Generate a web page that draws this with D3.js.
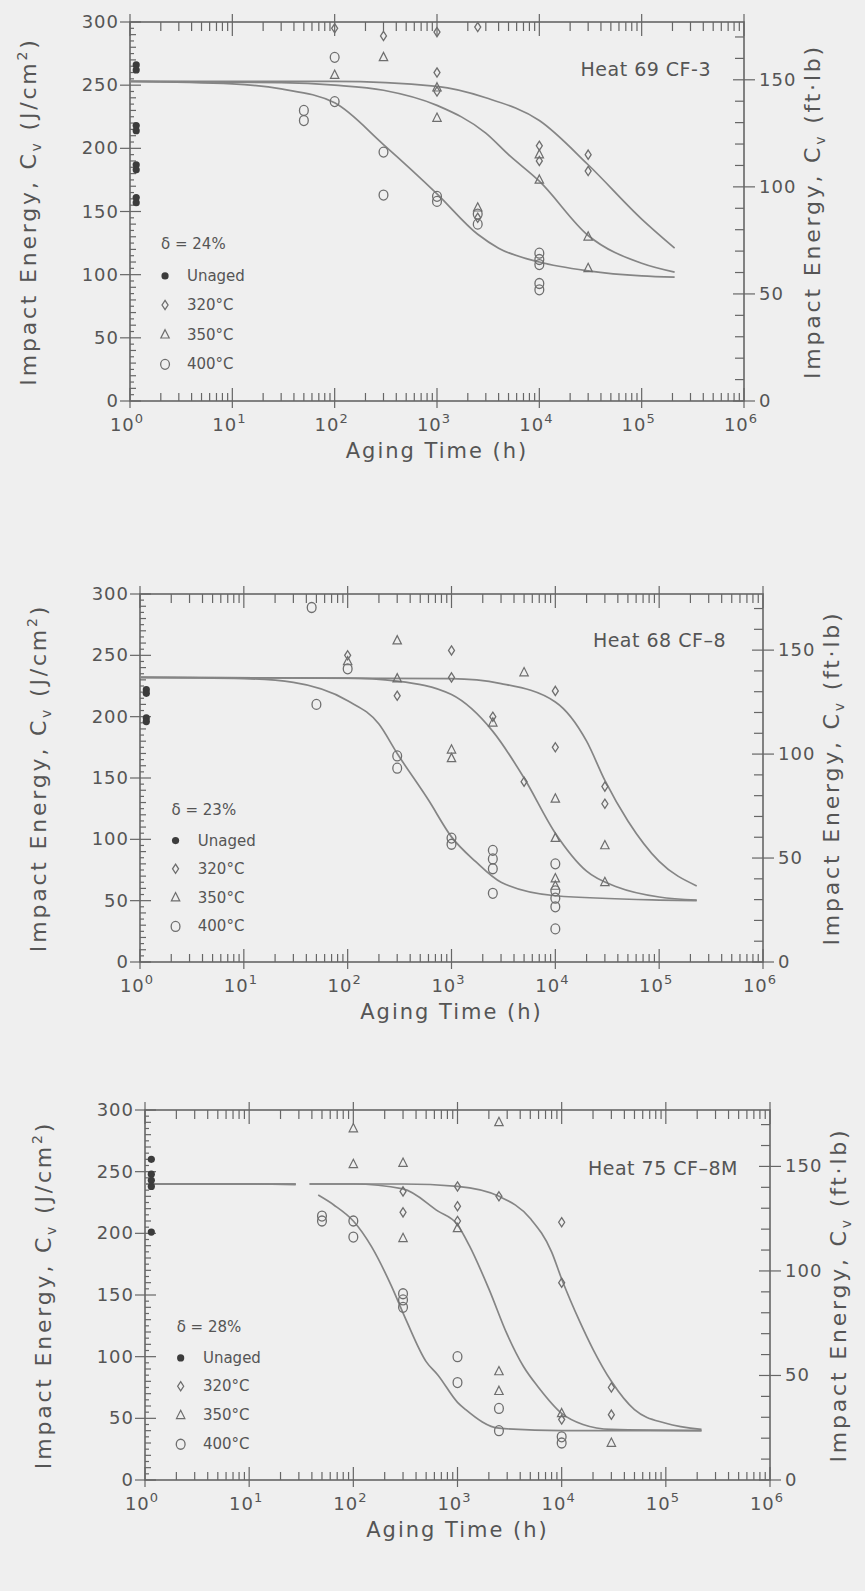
<!DOCTYPE html>
<html>
<head>
<meta charset="utf-8">
<script src="https://cdn.jsdelivr.net/npm/d3@7"></script>
<style>
body { margin: 0; background: #efefef; }
svg { display: block; }
text { font-family: "DejaVu Sans", sans-serif; fill: #555; }
</style>
</head>
<body>
<div id="container"></div>
<script>
var width = 865;
var height = 1591;

var xTickExp = [0, 1, 2, 3, 4, 5, 6];
var yTicks = [0, 50, 100, 150, 200, 250, 300];
var ftlbTicks = [0, 50, 100, 150];
var jPerFtlb = 1.695;   // 1 ft.lb on the 0.8 cm2 charpy section
var unagedTime = 1.15;

var titles = ["Heat 69 CF-3", "Heat 68 CF\u20138", "Heat 75 CF\u20138M"];
var deltas = ["\u03b4 = 24%", "\u03b4 = 23%", "\u03b4 = 28%"];
var legendLabels = ["Unaged", "320\u00b0C", "350\u00b0C", "400\u00b0C"];

// Heat 69 CF-3
var unaged69 = [266, 262, 218, 214, 187, 183, 161, 157];
var p69_320 = [[100, 295], [300, 289], [1000, 292], [2500, 296], [1000, 260], [1000, 245], [10000, 202], [10000, 190], [30000, 195], [30000, 182], [2500, 145]];
var p69_350 = [[300, 272], [100, 258], [1000, 248], [1000, 224], [2500, 153], [10000, 195], [10000, 175], [30000, 130], [30000, 105]];
var p69_400 = [[100, 272], [100, 237], [50, 230], [50, 222], [300, 197], [300, 163], [1000, 162], [1000, 158], [2500, 148], [2500, 140], [10000, 117], [10000, 112], [10000, 108], [10000, 93], [10000, 88]];
var c69_320 = [[1, 253], [100, 253], [1000, 249], [3000, 240], [10000, 222], [30000, 187], [100000, 144], [210000, 121]];
var c69_350 = [[1, 253], [30, 252], [100, 250], [300, 246], [1000, 234], [3000, 212], [5000, 195], [10000, 174], [30000, 131], [100000, 109], [210000, 102]];
var c69_400 = [[1, 253], [10, 251], [30, 247], [100, 236], [300, 203], [1000, 164], [2500, 132], [4000, 121], [10000, 110], [30000, 103], [100000, 99], [210000, 98]];

// Heat 68 CF-8
var unaged68 = [222, 219, 199, 196];
var p68_320 = [[100, 250], [1000, 254], [1000, 232], [300, 217], [2500, 200], [10000, 221], [10000, 175], [5000, 147], [30000, 143], [30000, 129]];
var p68_350 = [[100, 245], [300, 262], [300, 231], [5000, 236], [2500, 195], [1000, 173], [1000, 166], [10000, 133], [10000, 101], [10000, 68], [10000, 62], [30000, 95], [30000, 65]];
var p68_400 = [[45, 289], [50, 210], [100, 239], [300, 168], [300, 158], [1000, 101], [1000, 96], [2500, 91], [2500, 84], [2500, 76], [2500, 56], [10000, 80], [10000, 58], [10000, 52], [10000, 45], [10000, 27]];
var c68_320 = [[1, 232], [1000, 231], [3000, 227], [10000, 212], [20000, 180], [30000, 148], [50000, 115], [100000, 82], [230000, 62]];
var c68_350 = [[1, 232], [100, 231.5], [300, 229], [1000, 218], [2500, 188], [5000, 150], [10000, 105], [20000, 74], [40000, 61], [100000, 53], [230000, 50.5]];
var c68_400 = [[1, 232], [10, 231], [30, 228], [100, 213], [200, 194], [300, 170], [600, 132], [1000, 102], [1700, 82], [3000, 65], [10000, 54], [100000, 50.5], [230000, 50]];

// Heat 75 CF-8M
var unaged75 = [260, 248, 243, 238, 201];
var p75_320 = [[300, 234], [300, 217], [1000, 238], [1000, 222], [1000, 210], [2500, 230], [10000, 209], [10000, 160], [10000, 49], [30000, 75], [30000, 53]];
var p75_350 = [[100, 285], [100, 256], [300, 257], [300, 196], [2500, 290], [1000, 204], [2500, 88], [2500, 72], [10000, 54], [30000, 30]];
var p75_400 = [[50, 214], [50, 210], [100, 210], [100, 197], [300, 151], [300, 146], [300, 140], [1000, 100], [1000, 79], [2500, 58], [2500, 40], [10000, 35], [10000, 30]];
var c75_320 = [[1, 240], [28, 240], null, [38, 240], [300, 240], [1000, 238], [2500, 230], [5000, 212], [8000, 185], [10000, 163], [15000, 128], [20000, 106], [30000, 80], [50000, 57], [100000, 46], [220000, 41]];
var c75_350 = [[1, 240], [28, 240], null, [38, 240], [100, 240], [300, 236], [650, 218], [1000, 207], [1300, 190], [2000, 155], [3000, 118], [4300, 92], [6000, 75], [10000, 54], [16000, 45], [30000, 41], [220000, 40]];
var c75_400 = [[1, 240], [10, 240], [28, 239.5], null, [46, 231], [65, 223], [100, 210], [150, 189], [230, 158], [320, 130], [500, 96], [650, 85], [1000, 63], [1200, 57], [2500, 42], [10000, 40], [220000, 40]];

var panels = [
  { unaged: unaged69, pts: [p69_320, p69_350, p69_400], curves: [c69_320, c69_350, c69_400] },
  { unaged: unaged68, pts: [p68_320, p68_350, p68_400], curves: [c68_320, c68_350, c68_400] },
  { unaged: unaged75, pts: [p75_320, p75_350, p75_400], curves: [c75_320, c75_350, c75_400] }
];

// frame of each panel on the page (the scan drifts right going down)
var frames = [
  { left: 130, right: 744, top: 22, bottom: 401, titleX: 711, titleY: 76 },
  { left: 140, right: 763, top: 594, bottom: 962, titleX: 726, titleY: 647 },
  { left: 145, right: 770, top: 1110, bottom: 1480, titleX: 738, titleY: 1175 }
];

var axisColor = "#666";
var curveColor = "#858585";
var markColor = "#6e6e6e";

var svg = d3.select("#container")
  .append("svg")
  .attr("width", width)
  .attr("height", height);

svg.append("rect").attr("width", width).attr("height", height).attr("fill", "#efefef");

function drawMarker(g, kind, cx, cy) {
  if (kind === "unaged") {
    g.append("circle").attr("cx", cx).attr("cy", cy).attr("r", 3.6)
      .attr("fill", "#3c3c3c");
  } else if (kind === 0) {
    g.append("path")
      .attr("d", "M" + cx + "," + (cy - 4.6) + "L" + (cx + 3) + "," + cy + "L" + cx + "," + (cy + 4.6) + "L" + (cx - 3) + "," + cy + "Z")
      .attr("fill", "none").attr("stroke", markColor).attr("stroke-width", 1.3);
  } else if (kind === 1) {
    g.append("path")
      .attr("d", "M" + cx + "," + (cy - 5) + "L" + (cx + 4.2) + "," + (cy + 3.3) + "L" + (cx - 4.2) + "," + (cy + 3.3) + "Z")
      .attr("fill", "none").attr("stroke", markColor).attr("stroke-width", 1.2);
  } else {
    g.append("ellipse").attr("cx", cx).attr("cy", cy).attr("rx", 4.4).attr("ry", 5)
      .attr("fill", "none").attr("stroke", markColor).attr("stroke-width", 1.3);
  }
}

function drawPanel(P, F, i) {
  var g = svg.append("g");
  var x = d3.scaleLog().domain([1, 1e6]).range([F.left, F.right]);
  var y = d3.scaleLinear().domain([0, 300]).range([F.bottom, F.top]);
  var yr = d3.scaleLinear().domain([0, 300 / jPerFtlb]).range([F.bottom, F.top]);

  // frame
  g.append("rect")
    .attr("x", F.left).attr("y", F.top)
    .attr("width", F.right - F.left).attr("height", F.bottom - F.top)
    .attr("fill", "none").attr("stroke", axisColor).attr("stroke-width", 1.6);

  var ticks = g.append("g").attr("stroke", axisColor).attr("stroke-width", 1.2);

  // log ticks, top and bottom
  for (var d = 0; d <= 6; d++) {
    var xd = x(Math.pow(10, d));
    ticks.append("line").attr("x1", xd).attr("x2", xd).attr("y1", F.bottom - 13).attr("y2", F.bottom + 7);
    ticks.append("line").attr("x1", xd).attr("x2", xd).attr("y1", F.top - 8).attr("y2", F.top + 14);
    if (d < 6) {
      for (var k = 2; k <= 9; k++) {
        var xm = x(k * Math.pow(10, d));
        ticks.append("line").attr("x1", xm).attr("x2", xm).attr("y1", F.bottom - 8).attr("y2", F.bottom);
        ticks.append("line").attr("x1", xm).attr("x2", xm).attr("y1", F.top).attr("y2", F.top + 9);
      }
    }
  }

  // left J/cm2 ticks
  d3.range(0, 301, 5).forEach(function (v) {
    if (v % 50 === 0) {
      ticks.append("line").attr("x1", F.left - 10).attr("x2", F.left + 11).attr("y1", y(v)).attr("y2", y(v));
    } else {
      ticks.append("line").attr("x1", F.left).attr("x2", F.left + (v % 10 === 0 ? 6 : 4)).attr("y1", y(v)).attr("y2", y(v));
    }
  });

  // right ft.lb ticks
  d3.range(0, 300 / jPerFtlb, 10).forEach(function (v) {
    if (v % 50 === 0) {
      ticks.append("line").attr("x1", F.right - 11).attr("x2", F.right + 11).attr("y1", yr(v)).attr("y2", yr(v));
    } else {
      ticks.append("line").attr("x1", F.right - 9).attr("x2", F.right).attr("y1", yr(v)).attr("y2", yr(v));
    }
  });

  // tick labels
  g.selectAll(".yl").data(yTicks).enter().append("text")
    .attr("x", F.left - 11).attr("y", function (v) { return y(v) + 6; })
    .attr("text-anchor", "end").attr("font-size", 18).attr("letter-spacing", 1)
    .text(function (v) { return v; });

  g.selectAll(".yr").data(ftlbTicks).enter().append("text")
    .attr("x", F.right + 15).attr("y", function (v) { return yr(v) + 6; })
    .attr("font-size", 18).attr("letter-spacing", 1)
    .text(function (v) { return v; });

  var xl = g.selectAll(".xl").data(xTickExp).enter().append("text")
    .attr("x", function (e) { return x(Math.pow(10, e)) - 3; })
    .attr("y", F.bottom + 30)
    .attr("text-anchor", "middle").attr("font-size", 18).attr("letter-spacing", 1);
  xl.append("tspan").text("10");
  xl.append("tspan").attr("dy", -8).attr("font-size", 13).text(function (e) { return e; });

  g.append("text")
    .attr("x", (F.left + F.right) / 2).attr("y", F.bottom + 57)
    .attr("text-anchor", "middle").attr("font-size", 21).attr("letter-spacing", 2)
    .text("Aging Time (h)");

  // axis titles
  var cy = (F.top + F.bottom) / 2;
  var lt = g.append("text")
    .attr("transform", "translate(" + (F.left - 94) + "," + cy + ") rotate(-90)")
    .attr("text-anchor", "middle").attr("font-size", 22).attr("letter-spacing", 2.8);
  lt.append("tspan").text("Impact Energy, C");
  lt.append("tspan").attr("dy", 5).attr("font-size", 14).text("v");
  lt.append("tspan").attr("dy", -5).text(" (J/cm");
  lt.append("tspan").attr("dy", -9).attr("font-size", 14).text("2");
  lt.append("tspan").attr("dy", 9).text(")");

  var rt = g.append("text")
    .attr("transform", "translate(" + (F.right + 76) + "," + cy + ") rotate(-90)")
    .attr("text-anchor", "middle").attr("font-size", 22).attr("letter-spacing", 2.8);
  rt.append("tspan").text("Impact Energy, C");
  rt.append("tspan").attr("dy", 5).attr("font-size", 14).text("v");
  rt.append("tspan").attr("dy", -5).text(" (ft\u00b7lb)");

  g.append("text")
    .attr("x", F.titleX).attr("y", F.titleY)
    .attr("text-anchor", "end").attr("font-size", 19).attr("letter-spacing", 0.5)
    .text(titles[i]);

  // fitted curves
  var line = d3.line()
    .defined(function (d) { return d !== null; })
    .x(function (d) { return x(d[0]); })
    .y(function (d) { return y(d[1]); })
    .curve(d3.curveMonotoneX);
  P.curves.forEach(function (c) {
    g.append("path").attr("d", line(c))
      .attr("fill", "none").attr("stroke", curveColor).attr("stroke-width", 1.7);
  });

  // data
  P.unaged.forEach(function (v) { drawMarker(g, "unaged", x(unagedTime), y(v)); });
  P.pts.forEach(function (s, k) {
    s.forEach(function (d) { drawMarker(g, k, x(d[0]), y(d[1])); });
  });

  // legend
  var mx = x(2.2), tx = x(3.6);
  g.append("text").attr("x", mx - 4).attr("y", y(124) + 5)
    .attr("font-size", 15).attr("fill", "#666").text(deltas[i]);
  var rows = [99, 76, 52.5, 29];
  legendLabels.forEach(function (lab, k) {
    drawMarker(g, k === 0 ? "unaged" : k - 1, mx, y(rows[k]));
    g.append("text").attr("x", tx).attr("y", y(rows[k]) + 5)
      .attr("font-size", 15).attr("fill", "#666").text(lab);
  });
}

panels.forEach(function (P, i) { drawPanel(P, frames[i], i); });
</script>
</body>
</html>
